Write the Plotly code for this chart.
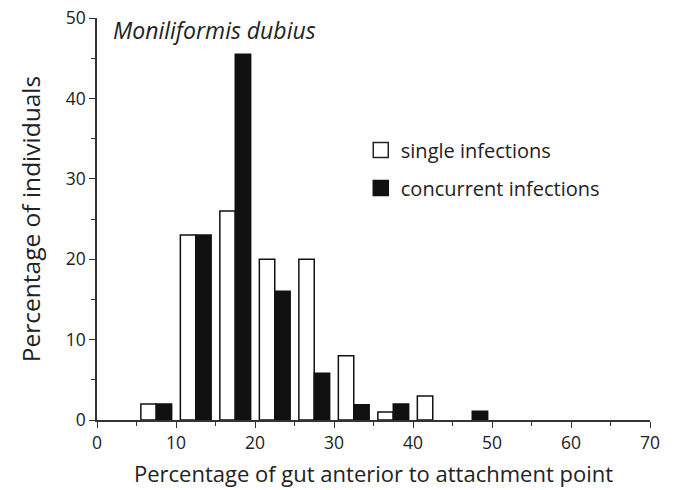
import plotly.graph_objects as go

# Bin centres (percentage of gut, 5-unit bins)
bin_centers = [7.5, 12.5, 17.5, 22.5, 27.5, 32.5, 37.5, 42.5, 47.5]
single_infections = [2, 23, 26, 20, 20, 8, 1, 3, 0]
concurrent_infections = [2, 23, 45.5, 16, 5.8, 1.9, 2, 0, 1.1]

x_ticks = [0, 10, 20, 30, 40, 50, 60, 70]
y_ticks = [0, 10, 20, 30, 40, 50]

FONT = "Open Sans"
AXIS_COL = "#333333"
TEXT_COL = "#222222"
BAR_W = 1.95


def no_empty(vals):
    # empty bins get no bar outline at the baseline
    return [v if v else None for v in vals]


fig = go.Figure()

fig.add_trace(go.Bar(
    x=bin_centers, y=no_empty(single_infections), width=BAR_W, offset=-BAR_W,
    marker=dict(color="white", line=dict(color="#111111", width=1.5)),
    showlegend=False, name="single infections",
))
fig.add_trace(go.Bar(
    x=bin_centers, y=no_empty(concurrent_infections), width=BAR_W, offset=0,
    marker=dict(color="#111111", line=dict(color="#111111", width=1.5)),
    showlegend=False, name="concurrent infections",
))

# Legend entries with larger square swatches
fig.add_trace(go.Scatter(
    x=[None], y=[None], mode="markers", name="single infections",
    marker=dict(symbol="square", size=15, color="white",
                line=dict(color="#222222", width=1.5)),
    legendgroup="a",
))
fig.add_trace(go.Scatter(
    x=[None], y=[None], mode="markers", name="concurrent infections",
    marker=dict(symbol="square", size=15, color="#111111",
                line=dict(color="#111111", width=1.5)),
    legendgroup="b",
))

fig.update_layout(
    width=673, height=490,
    margin=dict(l=97, r=23, t=18, b=70),
    paper_bgcolor="white", plot_bgcolor="white",
    font=dict(family=FONT, color=TEXT_COL, size=17),
    showlegend=True,
    legend=dict(
        x=0.477, y=0.72, xanchor="left", yanchor="top",
        font=dict(family=FONT, size=20, color=TEXT_COL),
        bgcolor="rgba(0,0,0,0)", tracegroupgap=9, traceorder="grouped",
        itemwidth=30,
    ),
    xaxis=dict(
        range=[0, 70], tickvals=x_ticks, ticktext=[str(v) for v in x_ticks],
        showgrid=False, zeroline=False, showline=True, linecolor=AXIS_COL,
        linewidth=1.5, ticks="outside", ticklen=6, tickwidth=1.2,
        tickcolor=AXIS_COL, automargin=False,
        minor=dict(dtick=5, ticks="outside", ticklen=4, tickcolor=AXIS_COL,
                   tickwidth=1),
        tickfont=dict(family=FONT, size=17.5, color=TEXT_COL),
        title=dict(text="Percentage of gut anterior to attachment point",
                   font=dict(family=FONT, size=22, color=TEXT_COL),
                   standoff=14),
    ),
    yaxis=dict(
        range=[0, 50], tickvals=y_ticks, ticktext=[str(v) for v in y_ticks],
        showgrid=False, zeroline=False, showline=True, linecolor=AXIS_COL,
        linewidth=1.5, ticks="outside", ticklen=6, tickwidth=1.2,
        tickcolor=AXIS_COL, automargin=False,
        minor=dict(dtick=5, ticks="outside", ticklen=4, tickcolor=AXIS_COL,
                   tickwidth=1),
        tickfont=dict(family=FONT, size=17.5, color=TEXT_COL),
        title=dict(text="Percentage of individuals",
                   font=dict(family=FONT, size=24.5, color=TEXT_COL),
                   standoff=18),
    ),
    annotations=[dict(
        text="<i>Moniliformis dubius</i>", x=0.026, y=0.97,
        xref="paper", yref="paper", xanchor="left", yanchor="middle",
        showarrow=False, font=dict(family=FONT, size=23, color=TEXT_COL),
    )],
)

fig.write_html("out.html")
